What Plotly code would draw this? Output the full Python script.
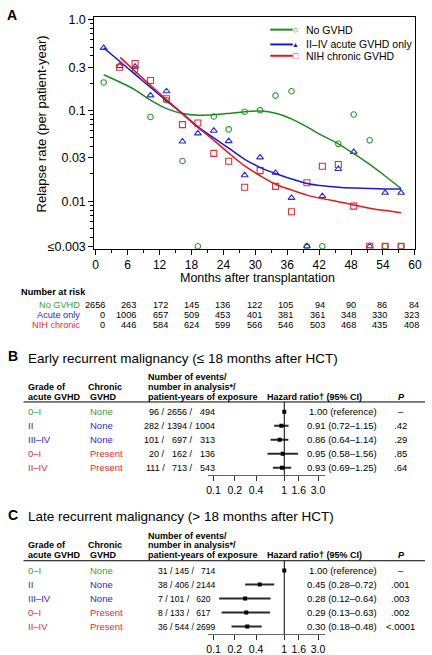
import math
import plotly.graph_objects as go

W, H = 432, 655
FONT = "Liberation Sans, Arial, Helvetica, sans-serif"

def X(px):
    return px / W

def Y(py):
    return 1 - py / H

GREEN_L, BLUE_L, RED_L = "#1f8a1f", "#1a1ad0", "#e8161b"
GREEN_M, BLUE_M, RED_M = "#2f9a2f", "#2a2ad8", "#e0303a"
GREEN_T, BLUE_T, RED_T = "#3a9e3a", "#2b2bd0", "#e42d2d"

# ---------------- Panel A data ----------------
LOD = 0.0032  # plotted level for rates <=0.003

months = [1.5, 4.5, 7.4, 10.3, 13.3, 16.3, 19.2, 22.2, 25.0, 28.0,
          30.9, 33.8, 36.8, 39.7, 42.6, 45.6, 48.5, 51.5, 54.4, 57.4]
rate_no_gvhd = [0.204, None, 0.276, 0.085, 0.13, 0.0278, LOD, 0.086, 0.062, 0.097,
                0.101, 0.146, 0.163, LOD, LOD, 0.043, 0.0905, 0.047, LOD, LOD]
rate_acute = [0.49, 0.31, 0.305, 0.147, 0.163, 0.0456, 0.056, 0.060, 0.046, 0.0194,
              0.0305, 0.0206, 0.0109, LOD, 0.0114, 0.0227, 0.035, LOD, 0.0124, 0.0124]
rate_nih = [None, 0.30, 0.33, 0.214, 0.135, 0.070, 0.073, 0.0337, 0.0276, 0.0143,
            0.0218, 0.0146, 0.00766, 0.016, 0.0243, 0.0254, 0.00884, LOD, LOD, LOD]

fit_x = [1.5, 4.6, 7.4, 10.3, 13.3, 16.3, 19.2, 22.2, 25.0, 28.0,
         31.0, 34.0, 37.0, 39.7, 42.6, 45.6, 48.5, 51.5, 54.4, 57.4]
fit_no_gvhd = [0.248, 0.205, 0.169, 0.130, 0.105, 0.093, 0.089, 0.090, 0.093, 0.097,
               0.099, 0.093, 0.080, 0.066, 0.053, 0.043, 0.0335, 0.0255, 0.019, 0.0138]
fit_acute = [0.49, 0.345, 0.25, 0.18, 0.128, 0.093, 0.066, 0.050, 0.0385, 0.029,
             0.0235, 0.0200, 0.0175, 0.0157, 0.0148, 0.0143, 0.0140, 0.0138, 0.0137, 0.0137]
fit_x_nih = fit_x[1:]
fit_nih = [0.385, 0.27, 0.19, 0.132, 0.092, 0.065, 0.047, 0.034, 0.0245,
           0.019, 0.0152, 0.0132, 0.0117, 0.0107, 0.0099, 0.0091, 0.0084, 0.0079, 0.0075]

y_tickvals = [LOD, 0.01, 0.03, 0.1, 0.3, 1.0]
y_ticktext = ["≤0.003", "0.01", "0.03", "0.1", "0.3", "1.0"]
y_minor = [0.004, 0.005, 0.006, 0.007, 0.008, 0.009, 0.02, 0.04, 0.05, 0.06,
           0.07, 0.08, 0.09, 0.2, 0.4, 0.5, 0.6, 0.7, 0.8, 0.9]
x_tickvals = list(range(0, 61, 6))

risk_months = [0, 6, 12, 18, 24, 30, 36, 42, 48, 54, 60]
risk_no_gvhd = [2656, 263, 172, 145, 136, 122, 105, 94, 90, 86, 84]
risk_acute = [0, 1006, 657, 509, 453, 401, 381, 361, 348, 330, 323]
risk_nih = [0, 446, 584, 624, 599, 566, 546, 503, 468, 435, 408]

# ---------------- Panels B / C data ----------------
grades = ["0–I", "II", "III–IV", "0–I", "II–IV"]
chronic = ["None", "None", "None", "Present", "Present"]
row_colors = [GREEN_T, BLUE_T, BLUE_T, RED_T, RED_T]

events_B = [96, 282, 101, 20, 111]
n_B = [2656, 1394, 697, 162, 713]
py_B = [494, 1004, 313, 136, 543]
hr_B = [1.00, 0.91, 0.86, 0.95, 0.93]
lo_B = [None, 0.72, 0.64, 0.58, 0.69]
hi_B = [None, 1.15, 1.14, 1.56, 1.25]
p_B = ["–", ".42", ".29", ".85", ".64"]

events_C = [31, 38, 7, 8, 36]
n_C = [145, 406, 101, 133, 544]
py_C = [714, 2144, 620, 617, 2699]
hr_C = [1.00, 0.45, 0.28, 0.29, 0.30]
lo_C = [None, 0.28, 0.12, 0.13, 0.18]
hi_C = [None, 0.72, 0.64, 0.63, 0.48]
p_C = ["–", ".001", ".003", ".002", "<.0001"]

hr_ticks = [0.1, 0.2, 0.4, 1, 1.6, 3.0]
hr_ticktext = ["0.1", "0.2", "0.4", "1", "1.6", "3.0"]

fig = go.Figure()

# Panel A markers
fig.add_trace(go.Scatter(x=months, y=rate_no_gvhd, mode="markers", xaxis="x", yaxis="y",
                         marker=dict(symbol="circle-open", size=5.5, color=GREEN_M, line=dict(width=1.1)),
                         showlegend=False))
fig.add_trace(go.Scatter(x=months, y=rate_acute, mode="markers", xaxis="x", yaxis="y",
                         marker=dict(symbol="triangle-up-open", size=6, color=BLUE_M, line=dict(width=1.1)),
                         showlegend=False))
fig.add_trace(go.Scatter(x=months, y=rate_nih, mode="markers", xaxis="x", yaxis="y",
                         marker=dict(symbol="square-open", size=6, color=RED_M, line=dict(width=1.1)),
                         showlegend=False))
# Panel A fitted curves
fig.add_trace(go.Scatter(x=fit_x, y=fit_no_gvhd, mode="lines", xaxis="x", yaxis="y",
                         line=dict(color=GREEN_L, width=1.5, shape="spline", smoothing=0.8), showlegend=False))
fig.add_trace(go.Scatter(x=fit_x, y=fit_acute, mode="lines", xaxis="x", yaxis="y",
                         line=dict(color=BLUE_L, width=1.5, shape="spline", smoothing=0.8), showlegend=False))
fig.add_trace(go.Scatter(x=fit_x_nih, y=fit_nih, mode="lines", xaxis="x", yaxis="y",
                         line=dict(color=RED_L, width=1.5, shape="spline", smoothing=0.8), showlegend=False))

# Forest plots
def forest(hr, lo, hi, xa, ya):
    rows = list(range(len(hr)))
    plus = [(h - e) if h is not None else 0 for e, h in zip(hr, hi)]
    minus = [(e - l) if l is not None else 0 for e, l in zip(hr, lo)]
    fig.add_trace(go.Scatter(x=hr, y=rows, mode="markers", xaxis=xa, yaxis=ya,
                             marker=dict(symbol="square", size=4, color="black"),
                             error_x=dict(type="data", array=plus, arrayminus=minus,
                                          color="#2a2a2a", thickness=2, width=0),
                             showlegend=False))

forest(hr_B, lo_B, hi_B, "x2", "y2")
forest(hr_C, lo_C, hi_C, "x3", "y3")

ann = []

def T(text, x, y, size=9.5, color="black", xanchor="left", xref="paper", yref="paper", **kw):
    d = dict(text=text, x=x, y=y, xref=xref, yref=yref, xanchor=xanchor, yanchor="middle",
             showarrow=False, font=dict(family=FONT, size=size, color=color))
    d.update(kw)
    ann.append(d)

# Panel A texts
T("<b>A</b>", X(3), Y(11.5), size=14)
T("Relapse rate (per patient-year)", X(40.5), Y(121.5), size=13, xanchor="center", textangle=-90)
T("Months after transplantation", X(261), Y(278), size=12.5, xanchor="center")

# legend (manual)
leg_rows = [(26, GREEN_L, "○", 9, "No GVHD"),
            (41, BLUE_L, "▲", 7, "II–IV acute GVHD only"),
            (52.5, RED_L, "□", 9, "NIH chronic GVHD")]
shapes = []
for yy, col, glyph, gs, label in leg_rows:
    shapes.append(dict(type="line", xref="paper", yref="paper", x0=X(274), x1=X(297),
                       y0=Y(yy), y1=Y(yy), line=dict(color=col, width=2)))
    T("<b>" + glyph + "</b>", X(300), Y(yy), size=gs, color=col, xanchor="center")
    T(label, X(308), Y(yy), size=10.5)

# Number at risk
T("<b>Number at risk</b>", X(17), Y(292), size=9.2)
for yy, col, label, vals in [(305, GREEN_T, "No GVHD", risk_no_gvhd),
                             (315, BLUE_T, "Acute only", risk_acute),
                             (325, RED_T, "NIH chronic", risk_nih)]:
    T(label, X(82), Y(yy), size=9.2, color=col, xanchor="right")
    for k, (m, v) in enumerate(zip(risk_months, vals)):
        T(str(v), m, Y(yy), size=9.2, xanchor="right", xref="x", xshift=11 - 0.5 * k)

NB = "\u00a0"

# Panels B and C tables
def table(letter, title, top, events, n, py, hr, lo, hi, p, ya, left_joined):
    T("<b>%s</b>" % letter, X(4), Y(top - 21), size=14)
    T(title, X(24.5), Y(top - 19), size=13.5)
    T("<b>Number of events/</b>", X(147.5), Y(top), size=9)
    T("<b>number in analysis*/</b>", X(147.5), Y(top + 10), size=9)
    T("<b>patient-years of exposure</b>", X(147.5), Y(top + 20), size=9)
    T("<b>Grade of</b>", X(24.5), Y(top + 10), size=9)
    T("<b>acute GVHD</b>", X(24.5), Y(top + 20), size=9)
    T("<b>Chronic</b>", X(85.5), Y(top + 10), size=9)
    T("<b>GVHD</b>", X(88), Y(top + 20), size=9)
    T("<b>Hazard ratio† (95% CI)</b>", X(269), Y(top + 20), size=9)
    T("<b><i>P</i></b>", X(408), Y(top + 20), size=9, xanchor="center")
    shapes.append(dict(type="line", xref="paper", yref="paper", x0=X(22), x1=X(432),
                       y0=Y(top + 25.5), y1=Y(top + 25.5), line=dict(color="black", width=1)))
    for i in range(5):
        T(grades[i], X(24), i, color=row_colors[i], yref=ya)
        T(chronic[i], X(87.5), i, color=row_colors[i], yref=ya)
        if left_joined:
            pad = NB * (2 * (4 - len(str(py[i]))))
            T("%d / %d / %s%d" % (events[i], n[i], pad, py[i]), X(157), i, yref=ya, size=8.6)
        else:
            T("%d /" % events[i], X(168.5), i, yref=ya, xanchor="right", size=9)
            T("%d /" % n[i], X(197), i, yref=ya, xanchor="right", size=9)
            T(str(py[i]), X(219.5), i, yref=ya, xanchor="right", size=9)
        if lo[i] is None:
            txt = "%.2f (reference)" % hr[i]
            xx = 311
        else:
            txt = "%.2f (%.2f–%.2f)" % (hr[i], lo[i], hi[i])
            xx = 309.5
        T(txt, X(xx), i, yref=ya)
        T(p[i], X(407), i, yref=ya, xanchor="center")

table("B", "Early recurrent malignancy (≤ 18 months after HCT)", 378,
      events_B, n_B, py_B, hr_B, lo_B, hi_B, p_B, "y2", False)
table("C", "Late recurrent malignancy (> 18 months after HCT)", 539,
      events_C, n_C, py_C, hr_C, lo_C, hi_C, p_C, "y3", True)

for xa, ya in [("x2", "y2"), ("x3", "y3")]:
    shapes.append(dict(type="line", xref=xa, yref=ya + " domain", x0=1, x1=1, y0=0, y1=1,
                       line=dict(color="black", width=1)))

row_range = [4.528, -0.704]
hr_axis = dict(type="log", range=[-1.083, 0.577], tickvals=hr_ticks, ticktext=hr_ticktext,
               ticks="outside", ticklen=5, tickwidth=1, tickcolor="#333", showline=True,
               linecolor="#666", linewidth=1.2, showgrid=False, zeroline=False,
               tickfont=dict(family=FONT, size=10.5, color="black"))

fig.update_layout(
    width=W, height=H, margin=dict(l=0, r=0, t=0, b=0),
    paper_bgcolor="white", plot_bgcolor="white",
    font=dict(family=FONT, color="black"),
    showlegend=False,
    xaxis=dict(domain=[X(94.3), X(421.7)], range=[-0.26, 60], tickvals=x_tickvals,
               ticks="outside", ticklen=5, tickwidth=1, tickcolor="black",
               showline=True, linecolor="black", linewidth=1, mirror=True,
               showgrid=False, zeroline=False, anchor="y",
               minor=dict(dtick=3, tick0=0, ticks="outside", ticklen=3, tickcolor="black", showgrid=False),
               tickfont=dict(family=FONT, size=12, color="black")),
    yaxis=dict(domain=[Y(248.3), Y(13.3)], type="log",
               range=[math.log10(0.00299), math.log10(1.07)],
               tickvals=y_tickvals, ticktext=y_ticktext,
               ticks="outside", ticklen=5, tickwidth=1, tickcolor="black",
               showline=True, linecolor="black", linewidth=1, mirror=True,
               showgrid=False, zeroline=False, anchor="x",
               minor=dict(tickvals=y_minor, ticks="outside", ticklen=3, tickcolor="black", showgrid=False),
               tickfont=dict(family=FONT, size=12.5, color="black")),
    xaxis2=dict(domain=[X(210), X(330)], anchor="y2", **hr_axis),
    yaxis2=dict(domain=[Y(477.8), Y(403.5)], range=row_range, visible=False, anchor="x2"),
    xaxis3=dict(domain=[X(210), X(330)], anchor="y3", **hr_axis),
    yaxis3=dict(domain=[Y(638.8), Y(564.5)], range=row_range, visible=False, anchor="x3"),
    annotations=ann,
    shapes=shapes,
)

fig.write_html("out.html", config={"displayModeBar": False},
               post_script="document.body.style.margin='0';document.body.style.overflow='hidden';")
